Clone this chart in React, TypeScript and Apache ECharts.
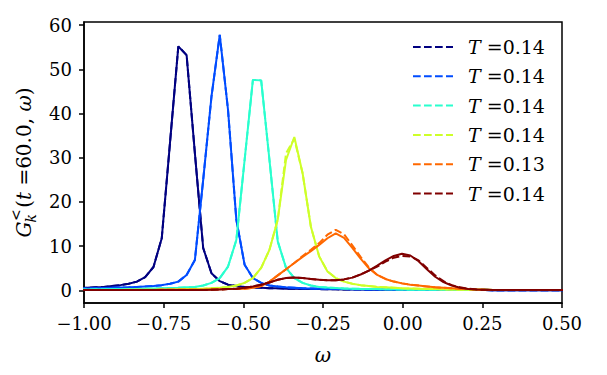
import React, { useEffect, useRef } from "react";
import * as echarts from "echarts";

const omega = [
  -1.016, -0.99, -0.964, -0.938, -0.912, -0.886, -0.86, -0.834, -0.808, -0.782,
  -0.756, -0.73, -0.704, -0.678, -0.652, -0.626, -0.6, -0.574, -0.548, -0.522,
  -0.496, -0.47, -0.444, -0.418, -0.392, -0.366, -0.34, -0.314, -0.288, -0.262,
  -0.236, -0.21, -0.184, -0.158, -0.132, -0.106, -0.08, -0.054, -0.028, -0.002,
  0.024, 0.05, 0.076, 0.102, 0.128, 0.154, 0.18, 0.206, 0.232, 0.258,
  0.284, 0.31, 0.336, 0.362, 0.388, 0.414, 0.44, 0.466, 0.492, 0.518,
];

const navy = [
  0.5, 0.6, 0.7, 0.8, 1.0, 1.2, 1.5, 2.0, 3.0, 5.3,
  11.8, 33.5, 55.2, 53.2, 31.0, 9.6, 3.9, 2.1, 1.3, 1.0,
  0.8, 0.7, 0.6, 0.5, 0.5, 0.4, 0.4, 0.35, 0.3, 0.3,
  0.25, 0.25, 0.2, 0.2, 0.2, 0.15, 0.15, 0.15, 0.15, 0.1,
  0.1, 0.1, 0.1, 0.1, 0.1, 0.1, 0.1, 0.1, 0.1, 0.1,
  0.05, 0.05, 0.05, 0.05, 0.05, 0.05, 0.05, 0.05, 0.05, 0.05,
];

const blue = [
  0.4, 0.45, 0.5, 0.55, 0.6, 0.65, 0.7, 0.8, 0.9, 1.0,
  1.2, 1.5, 2.0, 3.5, 6.9, 25.0, 43.8, 57.8, 40.8, 16.0,
  5.8, 2.8, 1.7, 1.1, 0.9, 0.7, 0.6, 0.5, 0.45, 0.4,
  0.35, 0.3, 0.3, 0.25, 0.25, 0.2, 0.2, 0.2, 0.15, 0.15,
  0.1, 0.1, 0.1, 0.1, 0.1, 0.1, 0.1, 0.1, 0.1, 0.1,
  0.05, 0.05, 0.05, 0.05, 0.05, 0.05, 0.05, 0.05, 0.05, 0.05,
];

const cyan = [
  0.2, 0.2, 0.25, 0.25, 0.3, 0.3, 0.35, 0.35, 0.4, 0.45,
  0.5, 0.55, 0.6, 0.7, 0.8, 1.1, 1.7, 2.8, 5.4, 11.4,
  29.5, 47.6, 47.5, 29.5, 11.1, 5.1, 2.8, 1.7, 1.1, 0.8,
  0.65, 0.55, 0.45, 0.4, 0.35, 0.3, 0.3, 0.25, 0.25, 0.2,
  0.15, 0.15, 0.15, 0.15, 0.15, 0.15, 0.15, 0.15, 0.15, 0.15,
  0.1, 0.1, 0.1, 0.1, 0.1, 0.1, 0.1, 0.1, 0.1, 0.1,
];

const yellow = [
  0.1, 0.1, 0.1, 0.1, 0.1, 0.1, 0.15, 0.15, 0.15, 0.15,
  0.2, 0.2, 0.25, 0.3, 0.35, 0.4, 0.5, 0.6, 0.8, 1.1,
  1.7, 2.8, 5.1, 9.2, 16.0, 29.5, 34.7, 26.5, 14.4, 7.7,
  4.3, 2.8, 2.0, 1.5, 1.2, 1.0, 0.8, 0.7, 0.6, 0.5,
  0.45, 0.4, 0.35, 0.3, 0.25, 0.2, 0.15, 0.15, 0.15, 0.15,
  0.1, 0.1, 0.1, 0.1, 0.1, 0.1, 0.1, 0.1, 0.1, 0.1,
];

const yellowDash = [
  0.1, 0.1, 0.1, 0.1, 0.1, 0.1, 0.15, 0.15, 0.15, 0.15,
  0.2, 0.2, 0.25, 0.3, 0.35, 0.4, 0.5, 0.6, 0.8, 1.1,
  1.7, 2.8, 5.1, 9.2, 16.0, 31.0, 34.3, 26.5, 14.4, 7.7,
  4.3, 2.8, 2.0, 1.5, 1.2, 1.0, 0.8, 0.7, 0.6, 0.5,
  0.45, 0.4, 0.35, 0.3, 0.25, 0.2, 0.15, 0.15, 0.15, 0.15,
  0.1, 0.1, 0.1, 0.1, 0.1, 0.1, 0.1, 0.1, 0.1, 0.1,
];

const orange = [
  0.1, 0.1, 0.1, 0.1, 0.1, 0.1, 0.1, 0.1, 0.1, 0.1,
  0.15, 0.15, 0.15, 0.15, 0.15, 0.15, 0.2, 0.25, 0.3, 0.35,
  0.4, 0.6, 1.0, 2.0, 3.4, 4.8, 6.2, 7.6, 8.9, 10.3,
  11.8, 12.9, 11.9, 9.6, 7.2, 5.0, 3.5, 2.6, 2.0, 1.6,
  1.3, 1.1, 0.9, 0.7, 0.6, 0.5, 0.4, 0.3, 0.2, 0.15,
  0.1, 0.1, 0.1, 0.1, 0.1, 0.1, 0.1, 0.1, 0.1, 0.1,
];

const orangeDash = [
  0.1, 0.1, 0.1, 0.1, 0.1, 0.1, 0.1, 0.1, 0.1, 0.1,
  0.15, 0.15, 0.15, 0.15, 0.15, 0.15, 0.2, 0.25, 0.3, 0.35,
  0.4, 0.6, 1.0, 2.0, 3.4, 4.8, 6.2, 7.8, 9.2, 10.7,
  12.6, 13.7, 12.7, 10.2, 7.6, 5.2, 3.5, 2.6, 2.0, 1.6,
  1.3, 1.1, 0.9, 0.7, 0.6, 0.5, 0.4, 0.3, 0.2, 0.15,
  0.1, 0.1, 0.1, 0.1, 0.1, 0.1, 0.1, 0.1, 0.1, 0.1,
];

const darkRed = [
  0.1, 0.1, 0.1, 0.1, 0.1, 0.1, 0.1, 0.1, 0.1, 0.1,
  0.1, 0.1, 0.1, 0.1, 0.1, 0.1, 0.15, 0.2, 0.3, 0.4,
  0.6, 0.9, 1.3, 1.8, 2.4, 2.8, 2.9, 2.8, 2.6, 2.4,
  2.3, 2.3, 2.5, 2.9, 3.6, 4.5, 5.6, 6.8, 7.8, 8.3,
  7.9, 6.6, 4.8, 3.1, 1.9, 1.1, 0.6, 0.35, 0.2, 0.15,
  0.1, 0.1, 0.1, 0.1, 0.1, 0.1, 0.1, 0.1, 0.1, 0.1,
];

const darkRedDash = [
  0.1, 0.1, 0.1, 0.1, 0.1, 0.1, 0.1, 0.1, 0.1, 0.1,
  0.1, 0.1, 0.1, 0.1, 0.1, 0.1, 0.15, 0.2, 0.3, 0.4,
  0.6, 0.9, 1.3, 1.8, 2.4, 2.8, 2.9, 2.8, 2.6, 2.4,
  2.3, 2.3, 2.5, 2.9, 3.6, 4.5, 5.4, 6.5, 7.4, 7.8,
  7.7, 6.8, 5.1, 3.4, 2.1, 1.2, 0.7, 0.4, 0.2, 0.15,
  0.1, 0.1, 0.1, 0.1, 0.1, 0.1, 0.1, 0.1, 0.1, 0.1,
];

const solidSeries = [navy, blue, cyan, yellow, orange, darkRed];
const dashedSeries = [navy, blue, cyan, yellowDash, orangeDash, darkRedDash];
const colors = ["#000080", "#004cff", "#29ffce", "#ceff29", "#ff6800", "#800000"];
const temps = ["0.14", "0.14", "0.14", "0.14", "0.13", "0.14"];
const yTicks = [0, 10, 20, 30, 40, 50, 60];

const FONT = "DejaVu Serif";

function pairs(ys: number[]) {
  return omega.map((x, i) => [x, ys[i]]);
}

function measure(text: string, font: string): number {
  const c = document.createElement("canvas").getContext("2d");
  if (!c) return text.length * 10;
  c.font = font;
  return c.measureText(text).width;
}

export default function App() {
  const ref = useRef<HTMLDivElement>(null);
  useEffect(() => {
    if (!ref.current) return;
    const chart = echarts.init(ref.current, null, { renderer: "svg" });
    const series: any[] = [];
    for (let k = 0; k < colors.length; k++) {
      series.push({
        type: "line",
        name: "solid" + k,
        data: pairs(solidSeries[k]),
        showSymbol: false,
        symbol: "none",
        lineStyle: { color: colors[k], width: 2 },
        itemStyle: { color: colors[k] },
        clip: true,
      });
      series.push({
        type: "line",
        name: "T =" + temps[k],
        data: pairs(dashedSeries[k]),
        showSymbol: false,
        symbol: "none",
        lineStyle: { color: colors[k], width: 2, type: [7.7, 3.3] },
        itemStyle: { color: colors[k] },
        clip: true,
      });
    }
    const legendEls: any[] = [];
    for (let k = 0; k < colors.length; k++) {
      const y = 47 + k * 29.3;
      legendEls.push({
        type: "line",
        shape: { x1: 413, y1: y, x2: 453, y2: y },
        style: { stroke: colors[k], lineWidth: 2, lineDash: [7.7, 3.3] },
      });
      legendEls.push({
        type: "text",
        x: 468,
        y: y,
        style: {
          text: "{i|T}{n| =" + temps[k] + "}",
          verticalAlign: "middle",
          align: "left",
          rich: {
            i: { fontFamily: FONT, fontStyle: "italic", fontSize: 19, fill: "#000" },
            n: { fontFamily: FONT, fontSize: 19, fill: "#000" },
          },
        },
      });
    }

    // y-axis label, laid out along the rotated baseline and centred on the plot
    const big = 20;
    const small = 14;
    const fG = `italic ${big}px '${FONT}'`;
    const fSmall = `${small}px '${FONT}'`;
    const fSmallI = `italic ${small}px '${FONT}'`;
    const fN = `${big}px '${FONT}'`;
    const wG = measure("G", fG);
    const wScript = Math.max(measure("<", fSmall), measure("k", fSmallI)) + 2;
    const restParts: [string, boolean][] = [["(", false], ["t", true], [" =60.0, ", false], ["ω", true], [")", false]];
    const wRest = restParts.reduce((s, [t, it]) => s + measure(t, it ? `italic ${big}px '${FONT}'` : fN), 0);
    const total = wG + wScript + wRest;
    const x0 = -total / 2;
    const ylabel = {
      type: "group",
      x: 24,
      y: 162.5,
      rotation: Math.PI / 2,
      children: [
        {
          type: "text",
          x: x0,
          y: 0,
          style: { text: "G", fontFamily: FONT, fontStyle: "italic", fontSize: big, fill: "#000", verticalAlign: "middle", align: "left" },
        },
        {
          type: "text",
          x: x0 + wG + 0.5,
          y: -8,
          style: { text: "<", fontFamily: FONT, fontSize: small, fill: "#000", verticalAlign: "middle", align: "left" },
        },
        {
          type: "text",
          x: x0 + wG - 1,
          y: 7,
          style: { text: "k", fontFamily: FONT, fontStyle: "italic", fontSize: small, fill: "#000", verticalAlign: "middle", align: "left" },
        },
        {
          type: "text",
          x: x0 + wG + wScript,
          y: 0,
          style: {
            text: "{n|(}{i|t}{n| =60.0, }{i|ω}{n|)}",
            verticalAlign: "middle",
            align: "left",
            rich: {
              i: { fontFamily: FONT, fontStyle: "italic", fontSize: big, fill: "#000" },
              n: { fontFamily: FONT, fontSize: big, fill: "#000" },
            },
          },
        },
      ],
    };
    const axisLineStyle = { color: "#000", width: 1.5 };
    chart.setOption({
      animation: false,
      backgroundColor: "#fff",
      grid: {
        left: 84,
        top: 22,
        width: 478,
        height: 281,
        containLabel: false,
        outerBoundsMode: "none",
        show: true,
        borderColor: "#000",
        borderWidth: 1.5,
        backgroundColor: "transparent",
      },
      xAxis: {
        type: "value",
        min: -1,
        max: 0.5,
        interval: 0.25,
        axisLine: { show: true, onZero: false, lineStyle: axisLineStyle },
        axisTick: { show: true, inside: false, length: 5, lineStyle: axisLineStyle },
        axisLabel: {
          color: "#000",
          fontFamily: FONT,
          fontSize: 18,
          margin: 11,
          formatter: (v: number) => (v < 0 ? "\u2212" : "") + Math.abs(v).toFixed(2),
        },
        splitLine: { show: false },
        name: "ω",
        nameLocation: "middle",
        nameGap: 42,
        nameTextStyle: { fontFamily: FONT, fontStyle: "italic", fontSize: 20, color: "#000" },
      },
      yAxis: {
        type: "value",
        min: -2.84,
        max: 60.7,
        axisLine: { show: true, onZero: false, lineStyle: axisLineStyle },
        axisTick: { show: true, inside: false, length: 5, lineStyle: axisLineStyle, customValues: yTicks },
        axisLabel: {
          color: "#000",
          fontFamily: FONT,
          fontSize: 18,
          margin: 12,
          customValues: yTicks,
          formatter: (v: number) => String(Math.round(v)),
        },
        splitLine: { show: false },
      },
      series,
      graphic: [...legendEls, ylabel],
    });
    return () => chart.dispose();
  }, []);
  return (
    <div
      ref={ref}
      style={{ position: "fixed", left: 0, top: 0, width: 607, height: 375, background: "#fff" }}
    />
  );
}
